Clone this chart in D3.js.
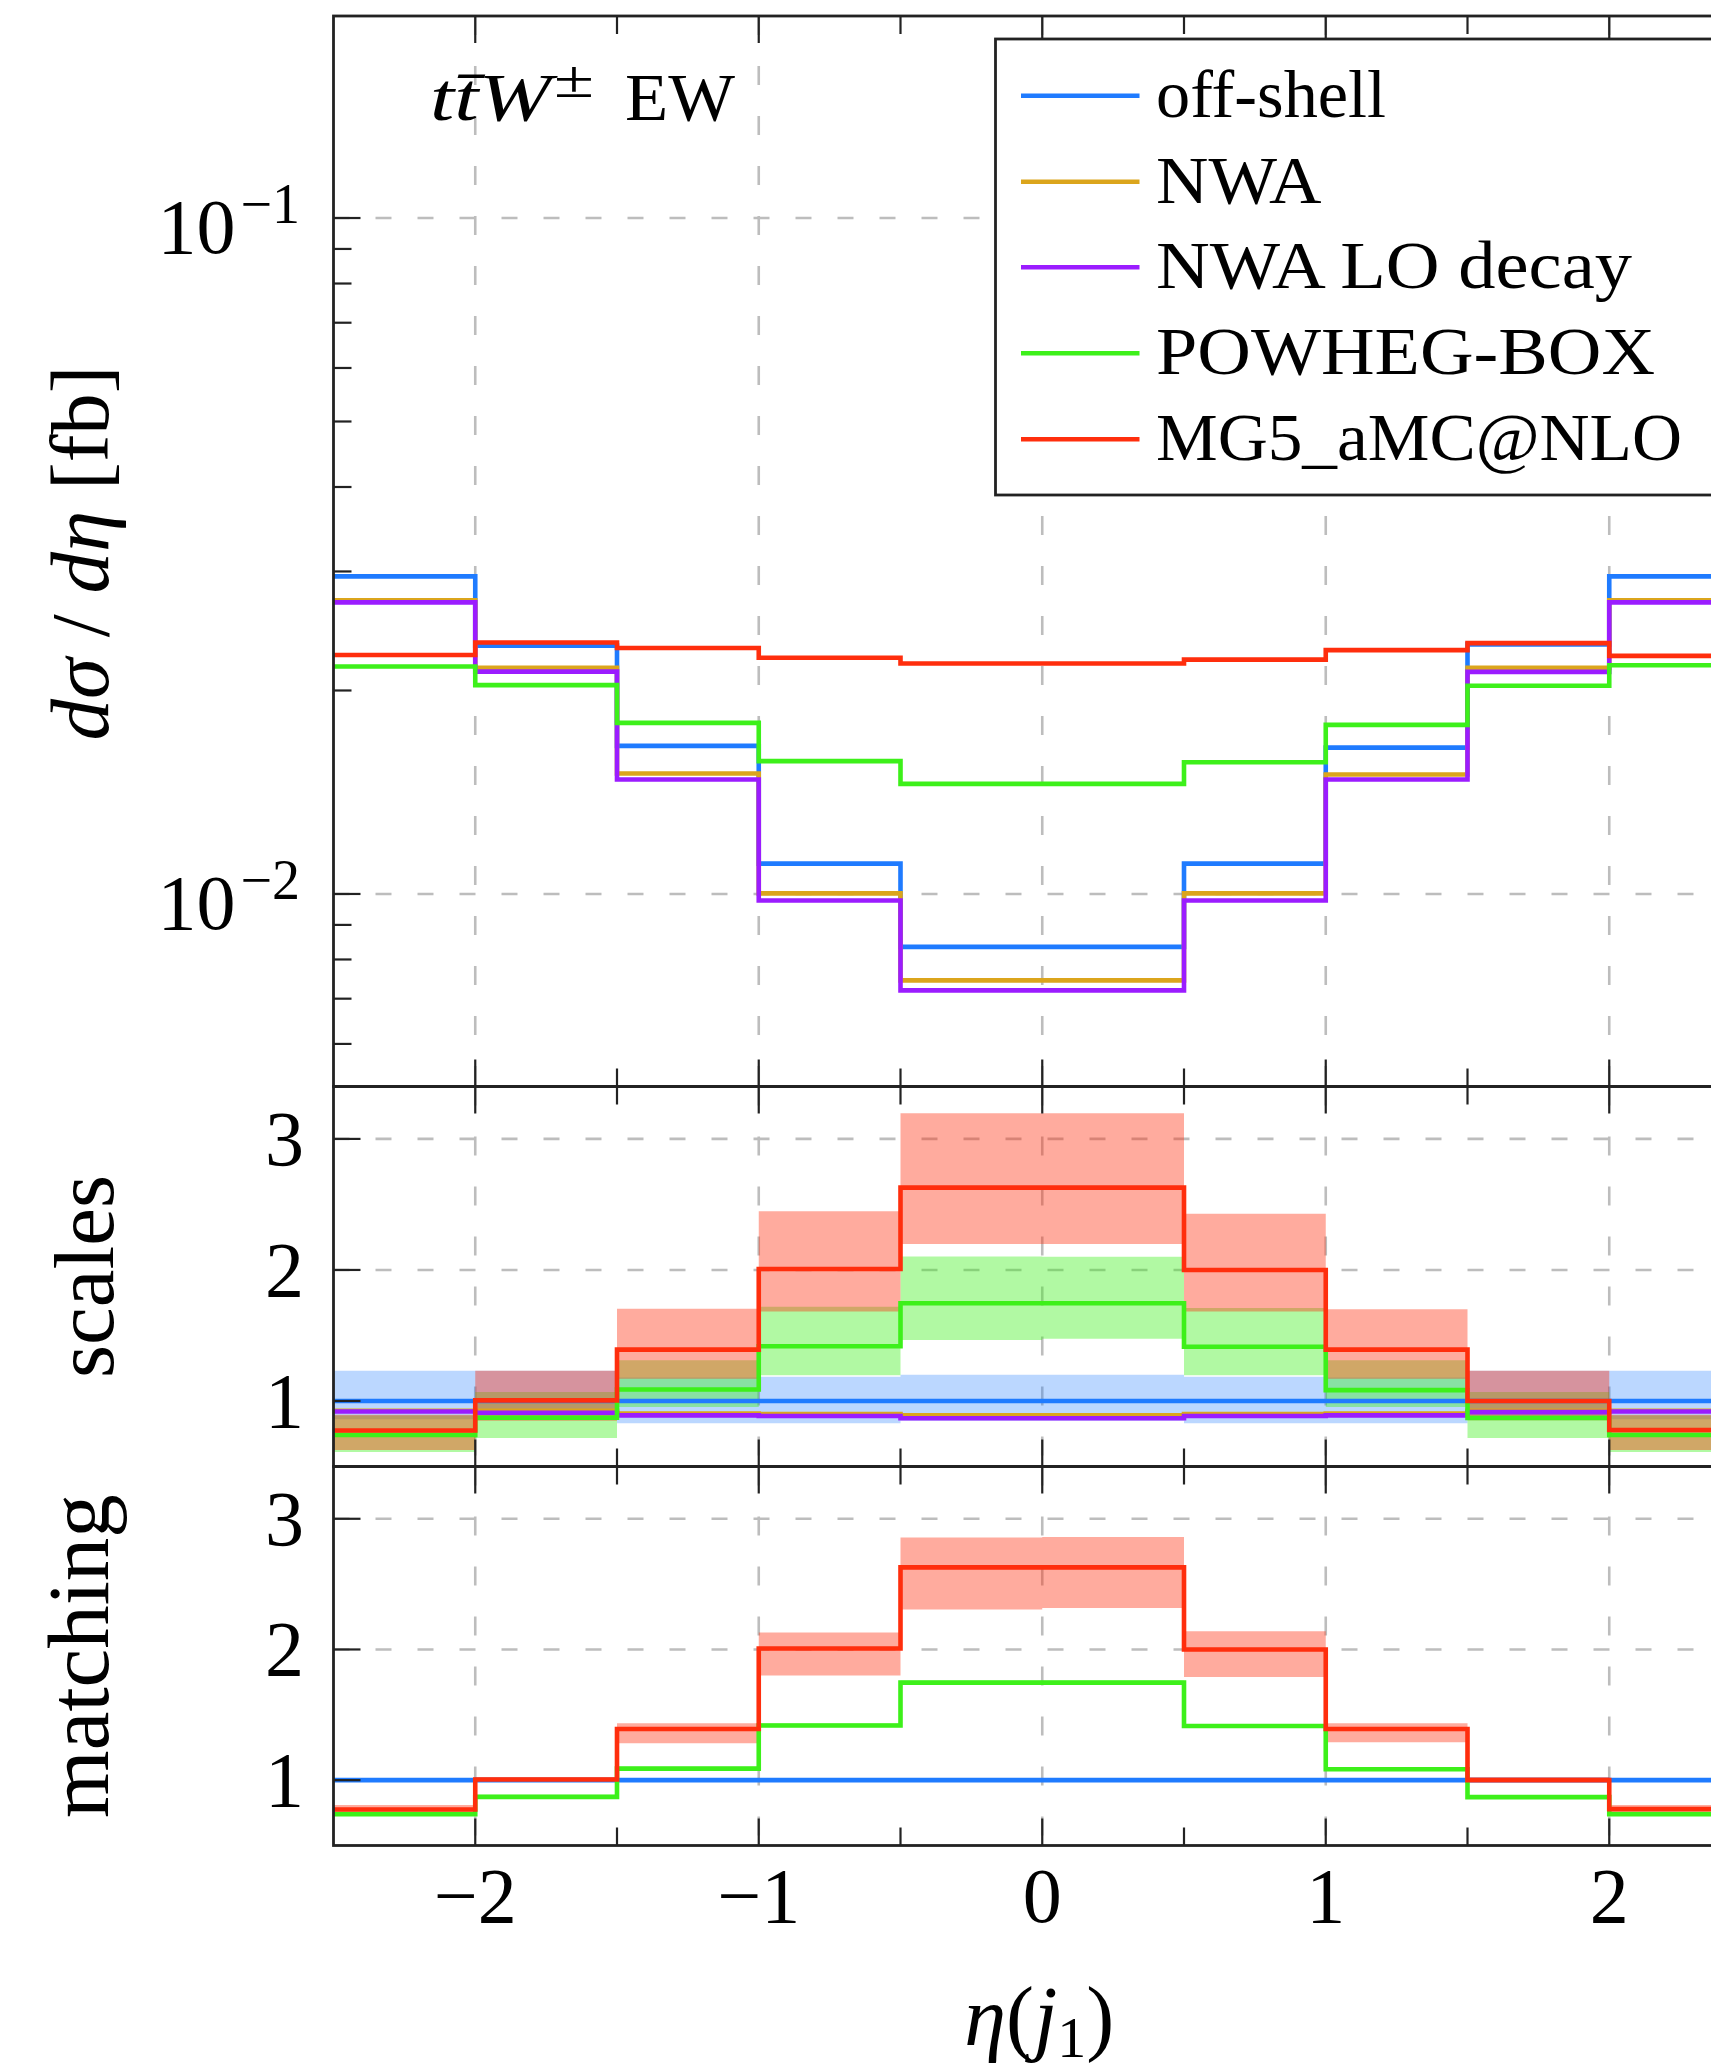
<!DOCTYPE html>
<html>
<head>
<meta charset="utf-8">
<script src="https://cdn.jsdelivr.net/npm/d3@7"></script>
<style>
  body { margin: 0; background: #fff; }
  svg { display: block; }
  text { font-family: "Liberation Serif", "Times New Roman", serif; fill: #000; }
</style>
</head>
<body>
<svg id="chart" width="1711" height="2069"></svg>
<script>
// ---- binning in eta(j1) ----
const binEdges = [-2.5, -2, -1.5, -1, -0.5, 0, 0.5, 1, 1.5, 2, 2.5];

// ---- series ----
const seriesNames = ["off-shell", "NWA", "NWA LO decay", "POWHEG-BOX", "MG5_aMC@NLO"];
const seriesColors = ["#1f7bff", "#dba51c", "#9b1cff", "#3df01a", "#ff2e0d"];

// dsigma/deta [fb]
const offShell   = [0.0295, 0.0233, 0.01656, 0.01109, 0.00835, 0.00835, 0.01109, 0.01646, 0.0234, 0.0295];
const nwa        = [0.0272, 0.0216, 0.01507, 0.01002, 0.00745, 0.00745, 0.01002, 0.01502, 0.0216, 0.0272];
const nwaLoDecay = [0.0270, 0.02133, 0.01477, 0.00978, 0.00720, 0.00720, 0.00978, 0.01477, 0.02131, 0.0270];
const powheg     = [0.0217, 0.02037, 0.01791, 0.01572, 0.01455, 0.01455, 0.01566, 0.01779, 0.02033, 0.0218];
const mg5        = [0.02257, 0.02355, 0.02312, 0.02236, 0.02193, 0.02193, 0.02222, 0.02295, 0.0235, 0.0225];

// ratios to off-shell
const ratioOffShell = [1, 1, 1, 1, 1, 1, 1, 1, 1, 1];
const ratioNwa      = [0.925, 0.925, 0.905, 0.900, 0.890, 0.890, 0.900, 0.905, 0.925, 0.925];
const ratioNwaLo    = [0.920, 0.910, 0.890, 0.885, 0.868, 0.868, 0.885, 0.890, 0.915, 0.920];
const ratioPowheg   = [0.740, 0.872, 1.088, 1.418, 1.746, 1.746, 1.414, 1.083, 0.870, 0.740];
const ratioMg5      = [0.775, 1.005, 1.392, 2.007, 2.628, 2.628, 2.000, 1.392, 1.000, 0.778];

// scale-variation bands
const scaleOffShellLo = [0.86, 0.86, 0.83, 0.83, 0.85, 0.85, 0.83, 0.83, 0.86, 0.86];
const scaleOffShellHi = [1.23, 1.23, 1.18, 1.185, 1.20, 1.20, 1.185, 1.18, 1.23, 1.23];
const scalePowhegLo   = [0.61, 0.717, 0.955, 1.197, 1.465, 1.475, 1.197, 0.954, 0.717, 0.61];
const scalePowhegHi   = [0.89, 1.069, 1.31, 1.72, 2.103, 2.10, 1.71, 1.31, 1.069, 0.89];
const scaleMg5Lo      = [0.625, 0.85, 1.17, 1.682, 2.198, 2.198, 1.682, 1.17, 0.853, 0.625];
const scaleMg5Hi      = [0.895, 1.23, 1.703, 2.448, 3.195, 3.195, 2.428, 1.70, 1.23, 0.895];

// matching-uncertainty bands
const matchOffShellLo = [0.985, 0.985, 0.985, 0.985, 0.985, 0.985, 0.985, 0.985, 0.985, 0.985];
const matchOffShellHi = [1.015, 1.015, 1.015, 1.015, 1.015, 1.015, 1.015, 1.015, 1.015, 1.015];
const matchPowhegLo   = [0.725, 0.86, 1.075, 1.405, 1.732, 1.732, 1.40, 1.07, 0.857, 0.725];
const matchPowhegHi   = [0.755, 0.888, 1.102, 1.435, 1.762, 1.762, 1.43, 1.097, 0.885, 0.755];
const matchMg5Lo      = [0.76, 0.985, 1.283, 1.80, 2.306, 2.318, 1.79, 1.29, 0.985, 0.76];
const matchMg5Hi      = [0.81, 1.025, 1.436, 2.13, 2.856, 2.86, 2.14, 1.436, 1.025, 0.81];

// ---- ticks ----
const xMajorTicks = [-2, -1, 0, 1, 2];
const xTickLabels = ["\u22122", "\u22121", "0", "1", "2"];
const xMinorTicks = [-1.5, -0.5, 0.5, 1.5];
const mainMajorTicks = [0.01, 0.1];
const mainTickExponents = ["\u22122", "\u22121"];
const mainMinorTicks = [0.006, 0.007, 0.008, 0.009, 0.02, 0.03, 0.04, 0.05, 0.06, 0.07, 0.08, 0.09];
const ratioTicks = [1, 2, 3];

// ---- layout ----
const L = 333.5, R = 1751;
const mainTop = 16, mainBottom = 1086.5, scalesBottom = 1466.5, matchBottom = 1845.5;
const majorLen = 27, minorLen = 18;
const axisColor = "#222", gridColor = "#bdbdbd";
const lineWidth = 4.6;

const svg = d3.select("#chart");
const x = d3.scaleLinear().domain([-2.5, 2.5]).range([L, R]);
const yMain = d3.scaleLog().domain([0.00519, 0.199]).range([mainBottom, mainTop]);
const yScales = d3.scaleLinear().domain([0.5, 3.4]).range([scalesBottom, mainBottom]);
const yMatch = d3.scaleLinear().domain([0.5, 3.4]).range([matchBottom, scalesBottom]);

function stepPoints(vals) {
  const pts = [];
  vals.forEach((v, i) => { pts.push([binEdges[i], v]); pts.push([binEdges[i + 1], v]); });
  return pts;
}
function bandPoints(lo, hi) {
  const pts = [];
  lo.forEach((v, i) => { pts.push([binEdges[i], v, hi[i]]); pts.push([binEdges[i + 1], v, hi[i]]); });
  return pts;
}

function panel(y, top, bottom, hGrid) {
  const g = svg.append("g");
  // dashed grid
  g.selectAll(".hg").data(hGrid).join("line")
    .attr("x1", L).attr("x2", R).attr("y1", d => y(d)).attr("y2", d => y(d))
    .attr("stroke", gridColor).attr("stroke-width", 2.6).attr("stroke-dasharray", "16 26");
  g.selectAll(".vg").data(xMajorTicks).join("line")
    .attr("x1", d => x(d)).attr("x2", d => x(d)).attr("y1", top).attr("y2", bottom)
    .attr("stroke", gridColor).attr("stroke-width", 2.6).attr("stroke-dasharray", "19 31");
  return g;
}

function frame(y, top, bottom, yMajor, yMinor) {
  const g = svg.append("g");
  const tick = (x1, y1, x2, y2) => g.append("line").attr("x1", x1).attr("y1", y1).attr("x2", x2).attr("y2", y2)
      .attr("stroke", axisColor).attr("stroke-width", 2.2);
  xMajorTicks.forEach(t => { tick(x(t), top, x(t), top + majorLen); tick(x(t), bottom, x(t), bottom - majorLen); });
  xMinorTicks.forEach(t => { tick(x(t), top, x(t), top + minorLen); tick(x(t), bottom, x(t), bottom - minorLen); });
  yMajor.forEach(t => { tick(L, y(t), L + majorLen, y(t)); tick(R, y(t), R - majorLen, y(t)); });
  yMinor.forEach(t => { tick(L, y(t), L + minorLen, y(t)); tick(R, y(t), R - minorLen, y(t)); });
  g.append("rect").attr("x", L).attr("y", top).attr("width", R - L).attr("height", bottom - top)
    .attr("fill", "none").attr("stroke", axisColor).attr("stroke-width", 2.8);
}

function drawLines(y, seriesList) {
  const line = d3.line().x(d => x(d[0])).y(d => y(d[1]));
  seriesList.forEach(([vals, color]) => {
    svg.append("path").attr("d", line(stepPoints(vals)))
      .attr("fill", "none").attr("stroke", color).attr("stroke-width", lineWidth)
      .attr("stroke-linejoin", "miter");
  });
}
function drawBands(y, bands) {
  const area = d3.area().x(d => x(d[0])).y0(d => y(d[1])).y1(d => y(d[2]));
  bands.forEach(([lo, hi, color, op]) => {
    svg.append("path").attr("d", area(bandPoints(lo, hi)))
      .attr("fill", color).attr("fill-opacity", op).attr("stroke", "none");
  });
}

// ---- main panel ----
panel(yMain, mainTop, mainBottom, mainMajorTicks);
drawLines(yMain, [[offShell, seriesColors[0]], [nwa, seriesColors[1]], [nwaLoDecay, seriesColors[2]],
                  [powheg, seriesColors[3]], [mg5, seriesColors[4]]]);
frame(yMain, mainTop, mainBottom, mainMajorTicks, mainMinorTicks);

mainMajorTicks.forEach((t, i) => {
  const tx = svg.append("text").attr("x", 300).attr("y", yMain(t) + 35)
    .attr("text-anchor", "end").attr("font-size", 78);
  tx.append("tspan").text("10");
  tx.append("tspan").attr("dx", 5).attr("dy", -30).attr("font-size", 56).text(mainTickExponents[i]);
});

// ---- scales panel ----
panel(yScales, mainBottom, scalesBottom, ratioTicks);
drawBands(yScales, [[scaleOffShellLo, scaleOffShellHi, seriesColors[0], 0.3],
                    [scalePowhegLo, scalePowhegHi, seriesColors[3], 0.4],
                    [scaleMg5Lo, scaleMg5Hi, seriesColors[4], 0.4]]);
drawLines(yScales, [[ratioOffShell, seriesColors[0]], [ratioNwa, seriesColors[1]], [ratioNwaLo, seriesColors[2]],
                    [ratioPowheg, seriesColors[3]], [ratioMg5, seriesColors[4]]]);
frame(yScales, mainBottom, scalesBottom, ratioTicks, []);

// ---- matching panel ----
panel(yMatch, scalesBottom, matchBottom, ratioTicks);
drawBands(yMatch, [[matchOffShellLo, matchOffShellHi, seriesColors[0], 0.3],
                   [matchPowhegLo, matchPowhegHi, seriesColors[3], 0.4],
                   [matchMg5Lo, matchMg5Hi, seriesColors[4], 0.4]]);
drawLines(yMatch, [[ratioOffShell, seriesColors[0]], [ratioPowheg, seriesColors[3]], [ratioMg5, seriesColors[4]]]);
frame(yMatch, scalesBottom, matchBottom, ratioTicks, []);

[yScales, yMatch].forEach(y => {
  svg.selectAll(null).data(ratioTicks).join("text")
    .attr("x", 304).attr("y", d => y(d) + 26).attr("text-anchor", "end").attr("font-size", 78)
    .text(d => d);
});

// x tick labels
svg.selectAll(null).data(xMajorTicks).join("text")
  .attr("x", d => x(d)).attr("y", 1922).attr("text-anchor", "middle").attr("font-size", 78)
  .text((d, i) => xTickLabels[i]);

// ---- axis labels ----
const yl = svg.append("text").attr("transform", "translate(108,553) rotate(-90)")
  .attr("text-anchor", "middle").attr("font-size", 83);
yl.append("tspan").attr("font-style", "italic").text("d\u03C3");
yl.append("tspan").text(" / ");
yl.append("tspan").attr("font-style", "italic").text("d\u03B7");
yl.append("tspan").text(" [fb]");

svg.append("text").attr("transform", `translate(113,${(mainBottom + scalesBottom) / 2}) rotate(-90)`)
  .attr("text-anchor", "middle").attr("font-size", 85).text("scales");
svg.append("text").attr("transform", `translate(108,${(scalesBottom + matchBottom) / 2}) rotate(-90)`)
  .attr("text-anchor", "middle").attr("font-size", 87).text("matching");

const xl = svg.append("text").attr("x", x(0) - 3).attr("y", 2045).attr("text-anchor", "middle").attr("font-size", 84);
xl.append("tspan").attr("font-style", "italic").text("\u03B7");
xl.append("tspan").text("(");
xl.append("tspan").attr("font-style", "italic").text("j");
xl.append("tspan").attr("font-size", 58).attr("dy", 12).text("1");
xl.append("tspan").attr("dy", -12).text(")");

// ---- process label ----
svg.append("text").attr("x", 430).attr("y", 120).attr("font-size", 68).attr("font-style", "italic")
  .attr("textLength", 121).attr("lengthAdjust", "spacingAndGlyphs").text("tt\u0304W");
svg.append("text").attr("x", 554).attr("y", 97).attr("font-size", 52)
  .attr("textLength", 40).attr("lengthAdjust", "spacingAndGlyphs").text("\u00B1");
svg.append("text").attr("x", 625).attr("y", 120).attr("font-size", 68)
  .attr("textLength", 110).attr("lengthAdjust", "spacingAndGlyphs").text("EW");

// ---- legend ----
const legendX = 995.5, legendY = 39, legendRight = 1728, legendBottom = 495;
const legendRows = [95.7, 181.7, 267.3, 353.3, 439.3];
const legendTextWidths = [230, 165.5, 476, 499, 526];
const lg = svg.append("g");
lg.append("rect").attr("x", legendX).attr("y", legendY)
  .attr("width", legendRight - legendX).attr("height", legendBottom - legendY)
  .attr("fill", "#fff").attr("stroke", axisColor).attr("stroke-width", 2.8);
seriesNames.forEach((name, i) => {
  lg.append("line").attr("x1", 1021).attr("x2", 1139.5).attr("y1", legendRows[i]).attr("y2", legendRows[i])
    .attr("stroke", seriesColors[i]).attr("stroke-width", lineWidth);
  lg.append("text").attr("x", 1156).attr("y", legendRows[i] + 21).attr("font-size", 68)
    .attr("textLength", legendTextWidths[i]).attr("lengthAdjust", "spacingAndGlyphs").text(name);
});
</script>
</body>
</html>
